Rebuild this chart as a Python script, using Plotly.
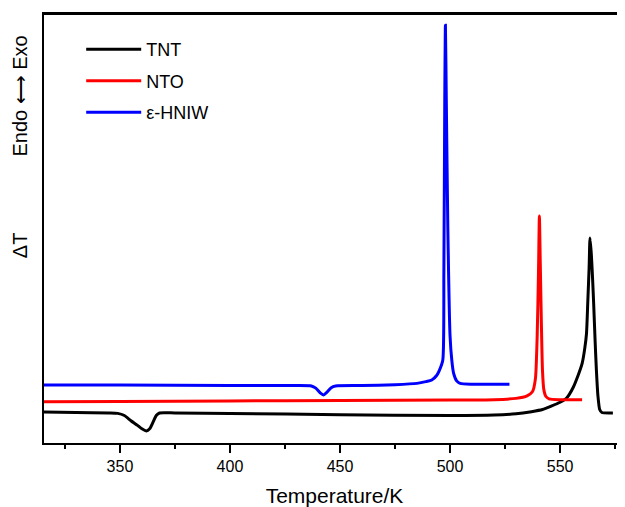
import plotly.graph_objects as go

# TNT curve (temperature K, relative delta T)
tnt_T = [315, 330, 345, 349, 352, 355, 358, 360, 362, 363.5, 365, 366.5, 368, 375, 400, 450,
         500, 520, 530, 537, 542, 546, 550, 553, 556, 558, 560, 561.2, 562, 562.6, 563.2,
         563.6, 564.2, 564.8, 565.3, 565.9, 566.5, 567.2, 568, 569, 574]
tnt_v = [7.2, 7.1, 7.0, 6.9, 6.4, 5.2, 4.1, 3.3, 2.8, 3.3, 4.8, 6.4, 7.0, 7.0, 6.9, 6.6,
         6.4, 6.5, 6.8, 7.3, 7.8, 8.6, 9.5, 10.5, 13.0, 15.5, 18.5, 22.0, 25.5, 33.0, 41.0,
         47.8, 44.0, 38.0, 32.0, 24.0, 17.0, 11.0, 7.8, 7.1, 7.0]

# NTO curve
nto_T = [315, 350, 400, 450, 500, 520, 530, 535, 537.5, 538.8, 539.6, 540.2, 540.6,
         541.0, 541.5, 542.0, 542.6, 543.5, 545, 550, 560]
nto_v = [9.6, 9.7, 9.8, 9.9, 10.0, 10.1, 10.4, 11.0, 12.0, 15.0, 25.0, 40.0, 52.9,
         42.0, 28.0, 17.0, 12.5, 10.9, 10.3, 10.1, 10.1]

# epsilon-HNIW curve
hniw_T = [315, 350, 400, 430, 437, 439, 441, 442.5, 444, 446, 448, 460, 475, 485, 489,
          491.7, 494, 495.2, 496.7, 497.2, 497.6, 497.9, 498.3, 499, 500, 500.8, 501.6,
          503, 504.6, 510, 527]
hniw_v = [13.5, 13.5, 13.4, 13.4, 13.3, 12.8, 11.7, 11.2, 11.8, 12.9, 13.3, 13.4, 13.6,
          13.9, 14.3, 14.7, 15.8, 17.0, 19.3, 40.0, 80.0, 97.4, 80.0, 50.0, 25.0, 19.3,
          16.3, 14.5, 13.9, 13.7, 13.7]

series = [
    ("TNT", tnt_T, tnt_v, "#000000"),
    ("NTO", nto_T, nto_v, "#ff0000"),
    ("ε-HNIW", hniw_T, hniw_v, "#0000ff"),
]

x_ticks = [350, 400, 450, 500, 550]

fig = go.Figure()
for i, (name, xs, ys, col) in enumerate(series):
    fig.add_trace(go.Scatter(x=xs, y=ys, mode="lines", name=name,
                             legendgroup=f"g{i}",
                             line=dict(color=col, width=3, shape="spline", smoothing=0.6)))

font_family = "Liberation Sans, Arial, sans-serif"
fig.update_layout(
    width=617, height=499,
    margin=dict(l=36, r=0, t=6, b=64),
    paper_bgcolor="white", plot_bgcolor="white",
    font=dict(family=font_family, color="black"),
    showlegend=True,
    legend=dict(x=0.064, y=0.96, xanchor="left", yanchor="top",
                font=dict(size=18, family=font_family), bgcolor="rgba(0,0,0,0)",
                tracegroupgap=5, traceorder="grouped", itemwidth=55),
    xaxis=dict(range=[315.5, 579.5], tickvals=x_ticks, ticks="outside", ticklen=8,
               tickwidth=1.5, tickcolor="black", showline=True, linecolor="black",
               linewidth=2, mirror=True, showgrid=False, zeroline=False,
               tickfont=dict(size=16),
               minor=dict(tickvals=[325, 375, 425, 475, 525, 575], ticks="outside",
                          ticklen=4, tickwidth=1.5, tickcolor="black"),
               title=dict(text="Temperature/K", font=dict(size=21), standoff=17)),
    yaxis=dict(range=[0, 100], showline=True, linecolor="black", linewidth=2,
               showticklabels=False, ticks="", showgrid=False, zeroline=False),
    shapes=[dict(type="line", xref="paper", yref="paper", x0=0, x1=1, y0=1, y1=1,
                 line=dict(color="black", width=2))],
    annotations=[
        dict(text="Endo ⟷ Exo", xref="paper", yref="paper", x=-0.041, y=0.808,
             xanchor="center", yanchor="middle", textangle=-90, showarrow=False,
             font=dict(size=20)),
        dict(text="ΔT", xref="paper", yref="paper", x=-0.041, y=0.4615,
             xanchor="center", yanchor="middle", textangle=-90, showarrow=False,
             font=dict(size=20)),
    ],
)

fig.write_html("out.html")
